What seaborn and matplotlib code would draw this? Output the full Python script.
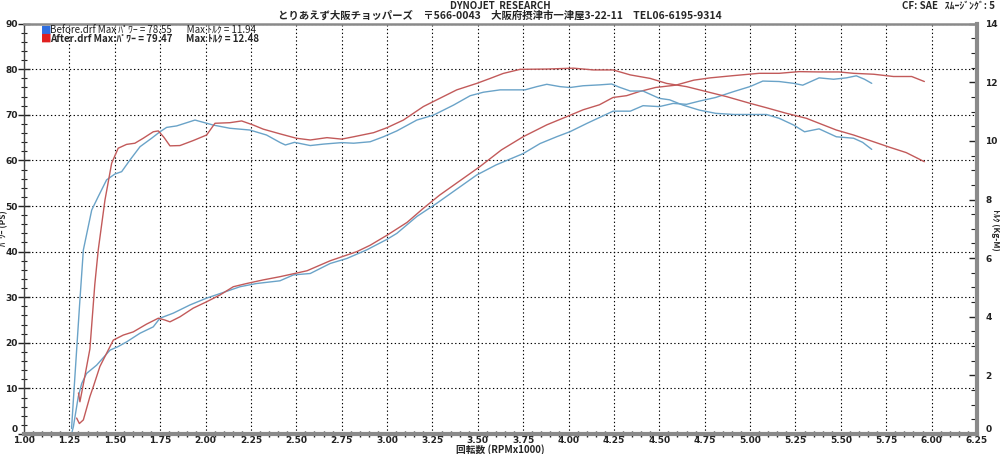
import matplotlib
matplotlib.use('Agg')
import matplotlib.pyplot as plt
import seaborn as sns
import pandas as pd
import numpy as np
from matplotlib.ticker import MultipleLocator

sns.set_style('white')
plt.rcParams['font.family'] = ['Noto Sans CJK JP', 'DejaVu Sans']

# --- data ---
# Before.drf power (PS)
before_power_rpm = [1.262, 1.272, 1.299, 1.318, 1.345, 1.40, 1.474, 1.52, 1.565, 1.639,
                    1.712, 1.749, 1.822, 1.914, 2.006, 2.08, 2.19, 2.28, 2.41, 2.485,
                    2.577, 2.687, 2.779, 2.889, 3.0, 3.054, 3.164, 3.274, 3.384, 3.494,
                    3.60, 3.75, 3.843, 3.935, 4.008, 4.10, 4.17, 4.245, 4.34, 4.41,
                    4.50, 4.576, 4.65, 4.72, 4.81, 4.91, 5.0, 5.07, 5.16, 5.24,
                    5.29, 5.38, 5.46, 5.53, 5.585, 5.63, 5.67]
before_power_ps = [0.0, 1.6, 8.2, 11.1, 13.3, 15.1, 18.4, 19.2, 20.2, 22.1,
                   23.5, 25.4, 26.5, 28.3, 29.8, 30.8, 32.3, 33.0, 33.6, 34.9,
                   35.2, 37.4, 38.5, 40.4, 42.7, 44.0, 47.7, 50.6, 53.7, 56.8,
                   59.0, 61.5, 63.7, 65.2, 66.3, 68.1, 69.4, 70.8, 70.8, 72.0,
                   71.8, 72.5, 72.3, 73.0, 73.8, 75.1, 76.2, 77.4, 77.3, 76.9,
                   76.5, 78.1, 77.8, 78.1, 78.55, 77.8, 76.9]

# After.drf power (PS)
after_power_rpm = [1.29, 1.305, 1.327, 1.363, 1.382, 1.418, 1.455, 1.492, 1.547, 1.602,
                   1.675, 1.74, 1.776, 1.804, 1.859, 1.932, 2.006, 2.08, 2.153, 2.226,
                   2.318, 2.41, 2.559, 2.687, 2.834, 2.907, 3.0, 3.11, 3.2, 3.29,
                   3.4, 3.51, 3.63, 3.75, 3.88, 3.99, 4.08, 4.17, 4.245, 4.32,
                   4.39, 4.48, 4.59, 4.69, 4.78, 4.91, 5.05, 5.16, 5.27, 5.38,
                   5.49, 5.57, 5.68, 5.79, 5.89, 5.96]
after_power_ps = [3.5, 2.3, 3.1, 8.2, 10.4, 14.8, 17.7, 20.6, 21.7, 22.4,
                  24.1, 25.4, 25.0, 24.6, 25.7, 27.6, 29.0, 30.5, 32.3, 33.0,
                  33.8, 34.5, 35.8, 38.0, 40.0, 41.4, 43.6, 46.4, 49.5, 52.4,
                  55.5, 58.6, 62.3, 65.2, 67.8, 69.6, 71.1, 72.2, 73.8, 74.2,
                  75.1, 76.0, 76.5, 77.6, 78.1, 78.6, 79.1, 79.1, 79.47, 79.4,
                  79.4, 79.1, 78.9, 78.4, 78.4, 77.3]

# Before.drf torque (Kg-M)
before_torque_rpm = [1.262, 1.272, 1.29, 1.308, 1.327, 1.373, 1.409, 1.455, 1.501, 1.538,
                     1.584, 1.639, 1.703, 1.749, 1.786, 1.841, 1.942, 2.042, 2.134, 2.244,
                     2.336, 2.412, 2.44, 2.49, 2.577, 2.65, 2.75, 2.816, 2.907, 2.98,
                     3.054, 3.164, 3.256, 3.366, 3.458, 3.531, 3.623, 3.76, 3.825, 3.88,
                     3.953, 4.008, 4.08, 4.17, 4.237, 4.28, 4.34, 4.41, 4.5, 4.557,
                     4.63, 4.72, 4.81, 4.91, 5.09, 5.16, 5.24, 5.3, 5.38, 5.475,
                     5.57, 5.62, 5.67]
before_torque_kgm = [0.19, 1.16, 2.87, 4.57, 6.28, 7.64, 8.10, 8.67, 8.87, 8.95,
                     9.35, 9.80, 10.09, 10.31, 10.46, 10.51, 10.71, 10.54, 10.43, 10.37,
                     10.20, 9.94, 9.86, 9.95, 9.84, 9.89, 9.94, 9.92, 9.97, 10.14,
                     10.34, 10.71, 10.88, 11.22, 11.54, 11.66, 11.74, 11.74, 11.85, 11.93,
                     11.85, 11.82, 11.88, 11.91, 11.94, 11.83, 11.7, 11.7, 11.45, 11.4,
                     11.22, 11.05, 10.94, 10.9, 10.9, 10.77, 10.54, 10.31, 10.41, 10.14,
                     10.09, 9.95, 9.71]

# After.drf torque (Kg-M)
after_torque_rpm = [1.30, 1.308, 1.33, 1.363, 1.39, 1.409, 1.446, 1.483, 1.519, 1.565,
                    1.611, 1.657, 1.712, 1.740, 1.771, 1.804, 1.859, 1.932, 2.006, 2.052,
                    2.134, 2.199, 2.263, 2.318, 2.41, 2.5, 2.577, 2.669, 2.75, 2.816,
                    2.926, 3.0, 3.09, 3.2, 3.274, 3.384, 3.494, 3.568, 3.64, 3.733,
                    3.88, 4.027, 4.137, 4.245, 4.34, 4.45, 4.54, 4.65, 4.76, 4.87,
                    5.0, 5.09, 5.2, 5.31, 5.38, 5.475, 5.57, 5.68, 5.77, 5.86, 5.96]
after_torque_kgm = [1.4, 1.10, 1.8, 2.9, 5.1, 6.28, 7.98, 9.24, 9.75, 9.88,
                    9.92, 10.09, 10.31, 10.34, 10.12, 9.83, 9.84, 10.01, 10.20, 10.60,
                    10.62, 10.68, 10.54, 10.40, 10.24, 10.09, 10.03, 10.11, 10.06, 10.14,
                    10.28, 10.45, 10.71, 11.17, 11.40, 11.74, 11.96, 12.13, 12.30, 12.44,
                    12.45, 12.48, 12.42, 12.42, 12.25, 12.13, 11.96, 11.85, 11.68, 11.51,
                    11.28, 11.13, 10.94, 10.77, 10.60, 10.37, 10.20, 9.97, 9.78, 9.60, 9.29]

x_ticks = np.arange(1.0, 6.26, 0.25)
ps_ticks = list(range(0, 91, 10))
kgm_ticks = list(range(0, 15, 2))

BLUE = '#6aa3c8'
RED = '#c25a5a'
GRID = (0, (1.2, 2.2))
tick_font = dict(fontsize=6.5, fontweight='bold', family=['DejaVu Sans'])

fig = plt.figure(figsize=(10, 4.54), dpi=100)
ax = fig.add_axes([0.024, 0.044, 0.953, 0.904])
ax2 = ax.twinx()

sns.lineplot(data=pd.DataFrame({'rpm': before_power_rpm, 'v': before_power_ps}),
             x='rpm', y='v', ax=ax, color=BLUE, lw=1.0)
sns.lineplot(data=pd.DataFrame({'rpm': after_power_rpm, 'v': after_power_ps}),
             x='rpm', y='v', ax=ax, color=RED, lw=1.0)
sns.lineplot(data=pd.DataFrame({'rpm': before_torque_rpm, 'v': before_torque_kgm}),
             x='rpm', y='v', ax=ax2, color=BLUE, lw=1.0)
sns.lineplot(data=pd.DataFrame({'rpm': after_torque_rpm, 'v': after_torque_kgm}),
             x='rpm', y='v', ax=ax2, color=RED, lw=1.0)

ax.set_xlim(1.0, 6.25)
ax.set_ylim(0, 90)
ax2.set_ylim(0, 14)
for a in (ax, ax2):
    a.set_xlabel('')
    a.set_ylabel('')

# grid (dotted black)
ax.set_xticks(x_ticks)
ax.set_xticklabels([f'{t:.2f}' for t in x_ticks], **tick_font)
ax.set_yticks(ps_ticks)
ax.set_yticklabels([str(t) for t in ps_ticks], **tick_font)
ax.xaxis.set_minor_locator(MultipleLocator(0.05))
ax.yaxis.set_minor_locator(MultipleLocator(2))
ax.grid(True, which='major', color='black', linestyle=GRID, lw=0.8)
ax.set_axisbelow(True)

ax2.set_yticks(kgm_ticks)
ax2.set_yticklabels([str(t) for t in kgm_ticks], **tick_font)
ax2.yaxis.set_minor_locator(MultipleLocator(0.5))
ax2.grid(False)

# the "0" labels sit just above the baseline, clear of the rpm labels
ax.get_yticklabels()[0].set_va('bottom')
ax2.get_yticklabels()[0].set_va('bottom')

ax.tick_params(axis='x', which='major', direction='inout', length=5, width=1, pad=-1, colors='#222222')
ax.tick_params(axis='x', which='minor', direction='inout', length=5, width=1, colors='#222222', bottom=True)
ax.tick_params(axis='y', which='major', direction='inout', length=8, width=1, pad=0.5, colors='#222222')
ax.tick_params(axis='y', which='minor', direction='inout', length=5, width=0.8, colors='#222222', left=True)
ax2.tick_params(axis='y', which='major', direction='in', length=6, width=1, pad=6, colors='#222222')
ax2.tick_params(axis='y', which='minor', direction='in', length=4, width=0.8, colors='#222222', right=True)

# frame
for s in ('right', 'top', 'left', 'bottom'):
    ax.spines[s].set_visible(False)
ax2.spines['left'].set_color('#444444')
ax2.spines['left'].set_linewidth(1.0)
ax2.spines['bottom'].set_color('#8a8a8a')
ax2.spines['bottom'].set_linewidth(3.0)
ax2.spines['right'].set_color('#8a8a8a')
ax2.spines['right'].set_linewidth(3.0)
ax2.spines['top'].set_color('#8a8a8a')
ax2.spines['top'].set_linewidth(1.8)

# header
fig.text(0.5, 1 - 6 / 454, 'DYNOJET  RESEARCH', ha='center', va='center',
         fontsize=7, fontweight='bold')
fig.text(0.5, 1 - 16 / 454,
         'とりあえず大阪チョッパーズ　〒566-0043　大阪府摂津市一津屋3-22-11　TEL06-6195-9314',
         ha='center', va='center', fontsize=7.5, fontweight='bold')
fig.text(0.995, 1 - 6 / 454, 'CF: SAE   ｽﾑｰｼﾞﾝｸﾞ: 5', ha='right', va='center',
         fontsize=7, fontweight='bold')

# legend block
fig.text(0.041, 1 - 30 / 454, '■', color='#2f6fe0', ha='left', va='center', fontsize=8,
         family=['DejaVu Sans'])
fig.text(0.050, 1 - 30 / 454, 'Before.drf Max ﾊﾟﾜｰ = 78.55       Max ﾄﾙｸ = 11.94',
         ha='left', va='center', fontsize=7, color='#222222')
fig.text(0.041, 1 - 38 / 454, '■', color='#e02020', ha='left', va='center', fontsize=8,
         family=['DejaVu Sans'])
fig.text(0.050, 1 - 38 / 454, 'After.drf Max:ﾊﾟﾜｰ = 79.47      Max ﾄﾙｸ = 12.48',
         ha='left', va='center', fontsize=7, fontweight='bold')

# axis titles
fig.text(0.0042, 1 - 228 / 454, 'ﾊﾟﾜｰ (PS)', rotation=90, ha='center', va='center',
         fontsize=6, fontweight='bold')
fig.text(0.996, 1 - 230 / 454, 'ﾄﾙｸ (Kg-M)', rotation=270, ha='center', va='center',
         fontsize=6, fontweight='bold')
fig.text(0.5, 1 - 450 / 454, '回転数 (RPMx1000)', ha='center', va='center',
         fontsize=7, fontweight='bold')

fig.savefig('out.png', dpi=100)
